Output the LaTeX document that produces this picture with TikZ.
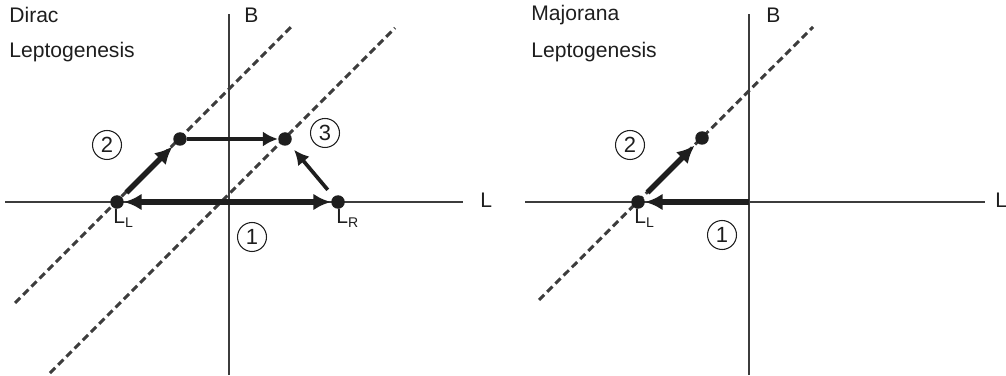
\documentclass[tikz,border=0pt]{standalone}
\usepackage{fontspec}
\setmainfont{Liberation Sans}
\usetikzlibrary{arrows.meta, positioning}
\definecolor{lgdark}{HTML}{1E1E1E}
\definecolor{lggray}{HTML}{3C3C3C}

\tikzset{
  axis/.style={line width=0.6pt, lggray},
  sphaleron/.style={line width=1.7pt, lggray, dash pattern=on 4.2pt off 2.4pt},
  state/.style={circle, fill=lgdark, inner sep=0pt, minimum size=0.27cm},
  stepnum/.style={circle, draw=lgdark, line width=0.6pt, inner sep=0pt, minimum size=0.58cm,
    font=\fontsize{12.5}{14}\selectfont, text=lgdark},
  bigarrow/.style={line width=3.2pt, lgdark, -{Latex[length=10pt,width=9.5pt]}},
  dblarrow/.style={line width=3.2pt, lgdark, {Latex[length=10pt,width=9.5pt]}-{Latex[length=10pt,width=9.5pt]}},
  smallarrow/.style={line width=2.1pt, lgdark, -{Latex[length=8.5pt,width=8.5pt]}},
  lbl/.style={font=\fontsize{12}{14}\selectfont, text=lgdark, inner sep=0pt}
}

\begin{document}
\begin{tikzpicture}[x=0.02cm, y=0.02cm]
\useasboundingbox (0,0) rectangle (1006,375);

% Dirac leptogenesis
\draw[axis] (229,0) -- (229,361);
\draw[axis] (5,173) -- (463,173);
\node[lbl, anchor=west] (diractitle) at (9,360) {Dirac};
\node[lbl, anchor=west] (diraclepto) at (9,323) {Leptogenesis};
\node[lbl, anchor=west] (diracB) at (244,360) {B};
\node[lbl, anchor=west] (diracL) at (480,175) {L};

\coordinate (dline1s) at (15,72);
\coordinate (dline1e) at (292,349);
\coordinate (dline2s) at (50,2);
\coordinate (dline2e) at (395,347);
\draw[sphaleron] (dline1s) -- (dline1e);
\draw[sphaleron] (dline2s) -- (dline2e);

\node[state] (diracLL) at (117,173) {};
\node[state] (diracup) at (180,236) {};
\node[state] (diracmix) at (285,236) {};
\node[state] (diracLR) at (338,173) {};

\draw[dblarrow] (diracLL) -- (diracLR);
\draw[bigarrow, shorten <=3.6pt, shorten >=2pt] (diracLL) -- (diracup);
\draw[smallarrow] (diracup) -- (diracmix);
\draw[smallarrow, shorten <=5pt, shorten >=4pt] (diracLR) -- (diracmix);

\node[stepnum] (dirac2) at (107,230) {2};
\node[stepnum] (dirac3) at (325,242) {3};
\node[stepnum] (dirac1) at (252,138) {1};
\node[lbl, anchor=north west] (diracLLlbl) at (113,166) {L\textsubscript{L}};
\node[lbl, anchor=north west] (diracLRlbl) at (336,166) {L\textsubscript{R}};

% Majorana leptogenesis
\draw[axis] (749,0) -- (749,361);
\draw[axis] (525,173) -- (985,173);
\node[lbl, anchor=west] (majtitle) at (531,360) {Majorana};
\node[lbl, anchor=west] (majlepto) at (531,323) {Leptogenesis};
\node[lbl, anchor=west] (majB) at (766,360) {B};
\node[lbl, anchor=west] (majL) at (995,175) {L};

\coordinate (mline1s) at (539,75);
\coordinate (mline1e) at (813,348);
\draw[sphaleron] (mline1s) -- (mline1e);

\coordinate (morigin) at (749,173);
\node[state] (majLL) at (638,173) {};
\node[state] (majup) at (702,237) {};

\draw[bigarrow] (morigin) -- (majLL);
\draw[bigarrow, shorten <=3.6pt, shorten >=2pt] (majLL) -- (majup);

\node[stepnum] (maj2) at (630,230) {2};
\node[stepnum] (maj1) at (722,140) {1};
\node[lbl, anchor=north west] (majLLlbl) at (634,166) {L\textsubscript{L}};
\end{tikzpicture}
\end{document}
